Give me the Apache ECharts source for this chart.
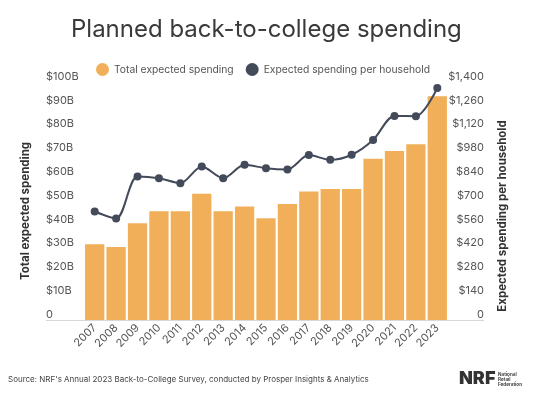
<!DOCTYPE html>
<html>
<head>
<meta charset="utf-8">
<script src="https://cdn.jsdelivr.net/npm/echarts@6/dist/echarts.min.js"></script>
<style>html,body{margin:0;padding:0;background:#fff;}#c{width:545px;height:400px;}</style>
</head>
<body>
<div id="c"></div>
<script>
var years = ['2007','2008','2009','2010','2011','2012','2013','2014','2015','2016','2017','2018','2019','2020','2021','2022','2023'];
var totalSpending = [31.8, 30.7, 40.7, 45.7, 45.7, 53.0, 45.7, 47.7, 42.8, 48.7, 54.0, 55.0, 55.0, 67.8, 71.0, 73.8, 94.0];
var perHousehold = [638, 597, 844, 834, 805, 903, 834, 913, 893, 886, 970, 942, 972, 1059, 1200, 1199, 1365];
var leftTicks = [0, 100, 10];
var rightTicks = [0, 1400, 140];

var FONT = 'Inter, "Open Sans", sans-serif';
var chart = echarts.init(document.getElementById('c'));
chart.setOption({
  backgroundColor: '#fff',
  textStyle: { fontFamily: FONT },
  title: {
    text: 'Planned back-to-college spending',
    left: 66, top: 13,
    textStyle: { fontFamily: FONT, fontSize: 24, fontWeight: 'normal', color: '#3a3a3a' }
  },
  legend: {
    top: 58, left: 91,
    icon: 'circle', itemWidth: 13, itemHeight: 13, itemGap: 12,
    textStyle: { fontFamily: FONT, fontSize: 10.3, color: '#555' },
    data: ['Total expected spending', 'Expected spending per household']
  },
  grid: { left: 84, right: 97, top: 82, bottom: 80 },
  xAxis: {
    type: 'category', data: years,
    axisLine: { show: false },
    axisTick: { show: false },
    axisLabel: { rotate: 45, fontSize: 11, color: '#555', margin: 6, interval: 0 }
  },
  yAxis: [
    {
      type: 'value', min: leftTicks[0], max: leftTicks[1], interval: leftTicks[2],
      name: 'Total expected spending', nameLocation: 'middle', nameRotate: 90, nameGap: 52,
      nameTextStyle: { fontFamily: FONT, fontSize: 11.5, fontWeight: 'bold', color: '#333', padding: [0, 20, 0, 0] },
      axisLine: { show: false }, axisTick: { show: false }, splitLine: { show: false },
      axisLabel: { align: 'left', margin: 38, verticalAlign: 'bottom', fontSize: 11, color: '#555',
        formatter: function (v) { return v === 0 ? '0' : '$' + v + 'B'; } }
    },
    {
      type: 'value', min: rightTicks[0], max: rightTicks[1], interval: rightTicks[2],
      name: 'Expected spending per household', nameLocation: 'middle', nameRotate: 90, nameGap: 49,
      nameTextStyle: { fontFamily: FONT, fontSize: 11.5, fontWeight: 'bold', color: '#333', padding: [0, 30, 0, 0] },
      axisLine: { show: false }, axisTick: { show: false }, splitLine: { show: false },
      axisLabel: { align: 'right', margin: 36, verticalAlign: 'bottom', fontSize: 11, color: '#555',
        formatter: function (v) { return v === 0 ? '0' : '$' + v.toLocaleString('en-US'); } }
    }
  ],
  graphic: [
    { type: 'rect', left: 46, top: 320, shape: { width: 438, height: 1 }, style: { fill: '#d8d8d8' }, z: 0 },
    { type: 'text', left: 8, top: 376, style: { text: "Source: NRF's Annual 2023 Back-to-College Survey, conducted by Prosper Insights & Analytics", font: '8px ' + FONT, fill: '#444' } },
    { type: 'text', left: 459, top: 370, style: { text: 'NRF', font: '900 18px ' + FONT, fill: '#333' } },
    { type: 'text', left: 498, top: 372, style: { text: 'National\nRetail\nFederation', font: 'bold 4.6px ' + FONT, fill: '#444', lineHeight: 5 } }
  ],
  series: [
    {
      name: 'Total expected spending', type: 'bar', yAxisIndex: 0,
      data: totalSpending, barCategoryGap: '10%',
      itemStyle: { color: '#F0AF58' }, z: 1
    },
    {
      name: 'Expected spending per household', type: 'line', yAxisIndex: 1,
      data: perHousehold, smooth: 0.3,
      symbol: 'circle', symbolSize: 8,
      lineStyle: { color: '#434a5a', width: 2 },
      itemStyle: { color: '#434a5a' }, z: 3
    }
  ]
});
</script>
</body>
</html>
